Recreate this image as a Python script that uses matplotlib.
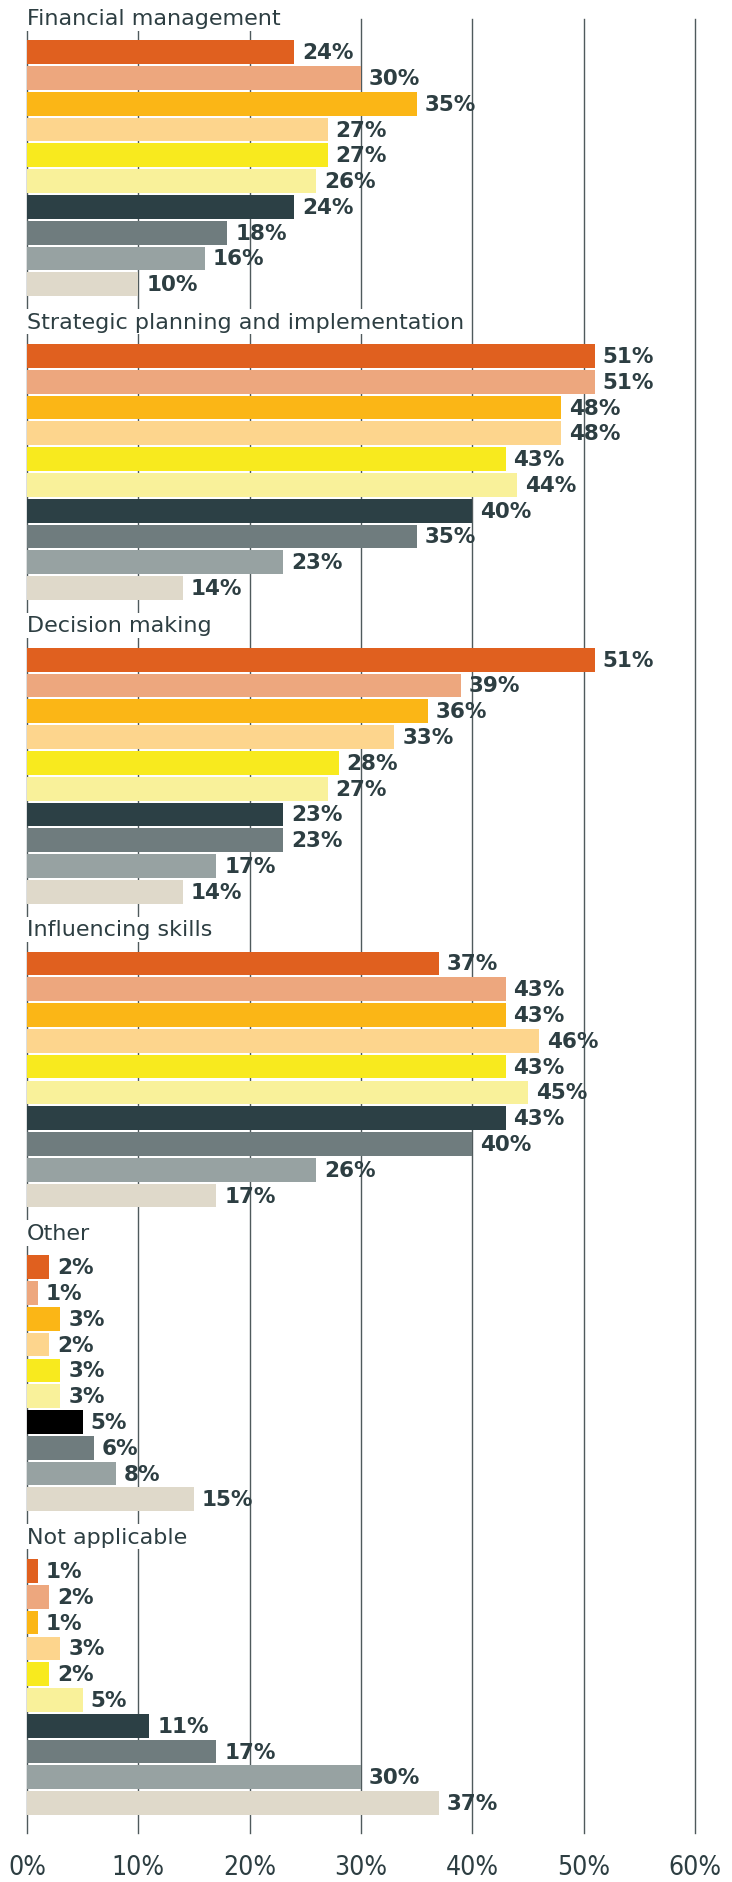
import matplotlib.pyplot as plt

# survey categories and the ten respondent groups (same colour order in every block)
categories = ["Financial management", "Strategic planning and implementation",
              "Decision making", "Influencing skills", "Other", "Not applicable"]

financial = [24, 30, 35, 27, 27, 26, 24, 18, 16, 10]
strategic = [51, 51, 48, 48, 43, 44, 40, 35, 23, 14]
decision = [51, 39, 36, 33, 28, 27, 23, 23, 17, 14]
influencing = [37, 43, 43, 46, 43, 45, 43, 40, 26, 17]
other = [2, 1, 3, 2, 3, 3, 5, 6, 8, 15]
not_applicable = [1, 2, 1, 3, 2, 5, 11, 17, 30, 37]

colors = ["#E0601F", "#EDA77E", "#FBB616", "#FDD58D", "#F8EA1E",
          "#F9F19A", "#2C4045", "#6F7C7E", "#97A2A2", "#DFD9CA"]

x_ticks = [0, 10, 20, 30, 40, 50, 60]

text_col = "#2D3E42"
group_gap = 11.78

fig = plt.figure(figsize=(7.32, 18.83), dpi=100)
ax = fig.add_axes([0.0369, 0.026, 0.9126, 0.9633])

all_vals = [financial, strategic, decision, influencing, other, not_applicable]
for g, (name, vals) in enumerate(zip(categories, all_vals)):
    base = g * group_gap
    ys = [base + i for i in range(len(vals))]
    cols = list(colors)
    if name == "Other":
        cols[6] = "#000000"  # the reference draws this one black
    ax.barh(ys, vals, height=0.92, color=cols, zorder=2)
    for y, v in zip(ys, vals):
        ax.text(v + 0.7, y, f"{v}%", va="center", ha="left", fontsize=15.5,
                fontweight="bold", color=text_col, zorder=3)
    ax.text(0, base - 1.33, name, va="center", ha="left", fontsize=16,
            color=text_col, zorder=4,
            bbox=dict(facecolor="white", edgecolor="none", pad=2))

# grid
for t in x_ticks:
    ax.axvline(t, color="#4F5A5C", linewidth=1.0, zorder=1, clip_on=False)

ax.set_xlim(0, 60)
ax.set_ylim(5 * group_gap + 9 + 1.16, -1.28)
ax.set_xticks(x_ticks)
ax.set_xticklabels([f"{t}%" for t in x_ticks], fontsize=19, color=text_col,
                   fontstretch="condensed")
ax.tick_params(axis="x", length=0, pad=15)
ax.set_yticks([])
for s in ax.spines.values():
    s.set_visible(False)

fig.savefig("out.png", dpi=100)
